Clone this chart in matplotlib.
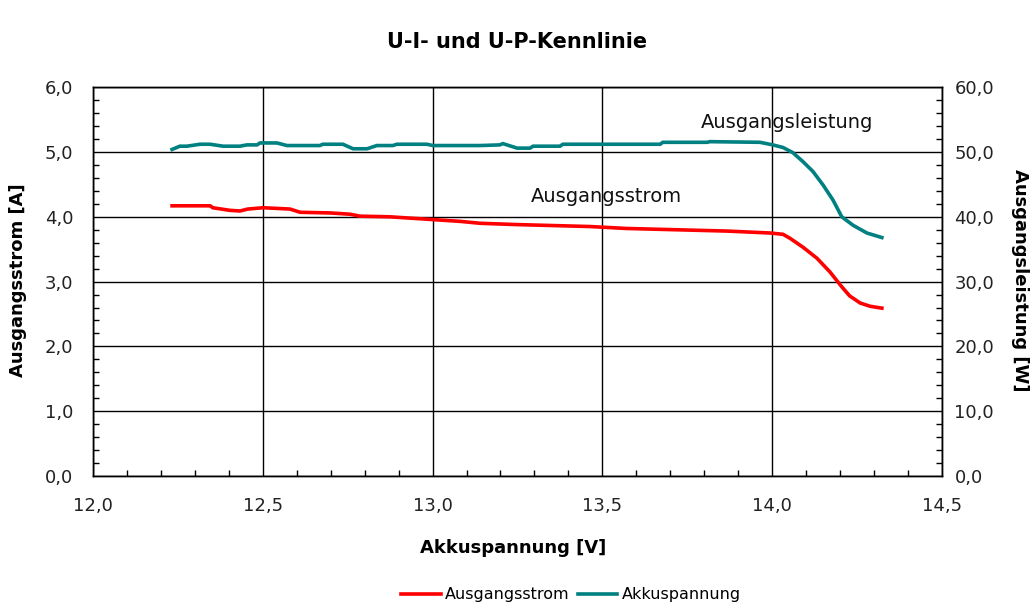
import matplotlib
matplotlib.use("Agg")
import matplotlib.pyplot as plt
from matplotlib.ticker import FuncFormatter, MultipleLocator

plt.rcParams['font.family'] = ['DejaVu Sans']

title = "U-I- und U-P-Kennlinie"
xlabel = "Akkuspannung [V]"
ylabel_left = "Ausgangsstrom [A]"
ylabel_right = "Ausgangsleistung [W]"
legend_labels = ["Ausgangsstrom", "Akkuspannung"]

volt_I = [12.233, 12.345, 12.353, 12.403, 12.433, 12.456, 12.501, 12.580, 12.610,
          12.698, 12.757, 12.786, 12.875, 12.933, 12.963, 13.022, 13.081, 13.140,
          13.249, 13.463, 13.572, 13.867, 13.994, 14.032, 14.052, 14.091, 14.132,
          14.170, 14.205, 14.228, 14.259, 14.288, 14.323]
current = [4.17, 4.17, 4.14, 4.10, 4.09, 4.12, 4.14, 4.12, 4.07,
           4.06, 4.04, 4.01, 4.00, 3.98, 3.97, 3.95, 3.93, 3.90,
           3.88, 3.85, 3.82, 3.78, 3.75, 3.73, 3.67, 3.53, 3.36,
           3.15, 2.92, 2.78, 2.67, 2.62, 2.59]

volt_P = [12.233, 12.256, 12.277, 12.315, 12.345, 12.383, 12.433, 12.453, 12.483,
          12.492, 12.542, 12.571, 12.668, 12.677, 12.736, 12.766, 12.807, 12.836,
          12.883, 12.895, 12.983, 13.001, 13.140, 13.198, 13.207, 13.249, 13.287,
          13.296, 13.375, 13.384, 13.670, 13.678, 13.808, 13.817, 13.964, 14.002,
          14.032, 14.061, 14.091, 14.120, 14.150, 14.179, 14.205, 14.238, 14.279,
          14.323]
power = [50.4, 50.9, 50.9, 51.2, 51.2, 50.9, 50.9, 51.1, 51.1,
         51.4, 51.4, 51.0, 51.0, 51.2, 51.2, 50.5, 50.5, 51.0,
         51.0, 51.2, 51.2, 51.0, 51.0, 51.1, 51.3, 50.6, 50.6,
         50.9, 50.9, 51.2, 51.2, 51.5, 51.5, 51.6, 51.5, 51.1,
         50.7, 49.9, 48.5, 47.0, 44.9, 42.6, 40.0, 38.7, 37.5,
         36.8]

RED = "#ff0000"
TEAL = "#008080"

fig = plt.figure(figsize=(10.34, 6.10), dpi=100)
ax = fig.add_axes([0.0899, 0.2197, 0.8211, 0.6373])
ax2 = ax.twinx()

comma1 = FuncFormatter(lambda v, p: f"{v:.1f}".replace(".", ","))

ax.set_xlim(12.0, 14.5)
ax.set_ylim(0, 6)
ax2.set_ylim(0, 60)
ax.xaxis.set_major_locator(MultipleLocator(0.5))
ax.xaxis.set_minor_locator(MultipleLocator(0.1))
ax.yaxis.set_major_locator(MultipleLocator(1.0))
ax.yaxis.set_minor_locator(MultipleLocator(0.2))
ax2.yaxis.set_major_locator(MultipleLocator(10))
ax2.yaxis.set_minor_locator(MultipleLocator(2))
ax.xaxis.set_major_formatter(comma1)
ax.yaxis.set_major_formatter(comma1)
ax2.yaxis.set_major_formatter(comma1)

ax.grid(True, which='major', color='black', linewidth=1.0)
ax.set_axisbelow(True)

for a in (ax, ax2):
    a.tick_params(which='major', length=0, labelsize=13, labelcolor='#222222')
    a.tick_params(which='minor', direction='in', length=4, width=1, color='black')
    for s in a.spines.values():
        s.set_color('black')
        s.set_linewidth(1.0)
ax.tick_params(axis='x', which='major', pad=15)
ax.tick_params(axis='y', which='major', pad=14)
ax2.tick_params(axis='y', which='major', pad=9)

l1, = ax.plot(volt_I, current, color=RED, linewidth=2.6, solid_joinstyle='miter')
l2, = ax2.plot(volt_P, power, color=TEAL, linewidth=2.6, solid_joinstyle='miter')

ax.text(13.29, 4.32, "Ausgangsstrom", fontsize=14, color='#111111', va='center', ha='left')
ax.text(13.79, 5.46, "Ausgangsleistung", fontsize=14, color='#111111', va='center', ha='left')

fig.text(0.5, 0.931, title, ha='center', va='center', fontsize=15, fontweight='bold')
fig.text(0.4966, 0.1016, xlabel, ha='center', va='center', fontsize=13, fontweight='bold')
fig.text(0.0174, 0.54, ylabel_left, ha='center', va='center', fontsize=13,
         fontweight='bold', rotation=90)
fig.text(0.9865, 0.54, ylabel_right, ha='center', va='center', fontsize=13,
         fontweight='bold', rotation=270)

fig.legend([l1, l2], legend_labels, loc='center', bbox_to_anchor=(0.552, 0.0246),
           ncol=2, frameon=False, fontsize=11.5, handlelength=2.5, handletextpad=0.25,
           columnspacing=0.5, borderpad=0)

fig.savefig("out.png", dpi=100)
